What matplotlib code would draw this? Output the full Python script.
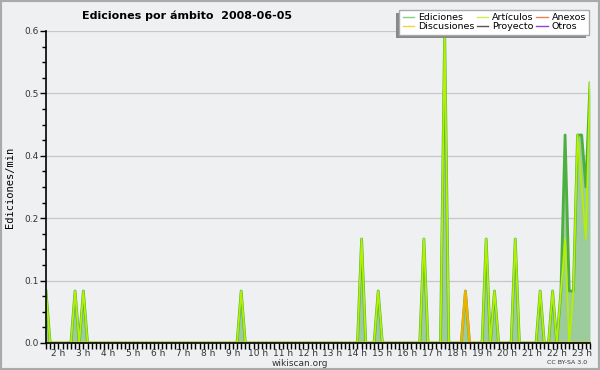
import numpy as np
import matplotlib
matplotlib.use('Agg')
import matplotlib.pyplot as plt
from matplotlib.ticker import MultipleLocator, FormatStrFormatter, FixedLocator
from matplotlib.patches import Rectangle
from matplotlib.lines import Line2D

# 10-minute bins, 01:30 .. 23:20 ; only non-zero bins listed (edits per minute)
bin_start = '01:30'
bin_end = '23:20'

ediciones = {'01:30': 0.1, '02:40': 0.1, '03:00': 0.1, '09:20': 0.1,
             '14:10': 0.2, '14:50': 0.1, '16:40': 0.2, '17:30': 0.6,
             '18:20': 0.1, '19:10': 0.2, '19:30': 0.1, '20:20': 0.2,
             '21:20': 0.1, '21:50': 0.1, '22:10': 0.1, '22:20': 0.4,
             '22:30': 0.1, '22:40': 0.1, '22:50': 0.4, '23:00': 0.4,
             '23:10': 0.3, '23:20': 0.5}
articulos = {'01:30': 0.1, '02:40': 0.1, '03:00': 0.1, '09:20': 0.1,
             '14:10': 0.2, '14:50': 0.1, '16:40': 0.2, '17:30': 0.6,
             '19:10': 0.2, '19:30': 0.1, '20:20': 0.2,
             '21:20': 0.1, '21:50': 0.1, '22:10': 0.1, '22:20': 0.2,
             '22:40': 0.1, '22:50': 0.4, '23:00': 0.3,
             '23:10': 0.2, '23:20': 0.5}
discusiones = {'18:20': 0.1}

hour_labels = [f'{h} h' for h in range(2, 24)]
hour_ticks = list(range(2, 24))


def to_hour(s):
    hh, mm = s.split(':')
    return int(hh) + int(mm) / 60.0


t0 = to_hour(bin_start)
t1 = to_hour(bin_end)
n_bins = int(round((t1 - t0) * 6)) + 1
times = t0 + np.arange(n_bins) / 6.0


def series(d):
    v = np.zeros(n_bins)
    for k, val in d.items():
        v[int(round((to_hour(k) - t0) * 6))] = val
    return v


bg = '#eef0f2'
fig = plt.figure(figsize=(6, 3.7), dpi=100, facecolor=bg)
ax = fig.add_axes([46 / 600, 1 - 343 / 370, 544 / 600, 312 / 370])
ax.set_facecolor(bg)

ed = series(ediciones)
ax.fill_between(times, 0, ed, color='#9ccb9c', lw=0, zorder=2)
ax.plot(times, ed, color='#4cb040', lw=2.0, zorder=3)
ax.plot(times, series(discusiones), color='#f0b000', lw=1.8, zorder=3.5)
ax.plot(times, series(articulos), color='#b4f000', lw=1.3, zorder=4)

ax.set_xlim(t0, t1)
ax.set_ylim(0, 0.6)

ax.yaxis.set_major_locator(MultipleLocator(0.12))
ax.yaxis.set_minor_locator(MultipleLocator(0.03))
ax.yaxis.set_major_formatter(FormatStrFormatter('%.1f'))
ax.xaxis.set_major_locator(FixedLocator(hour_ticks))
ax.xaxis.set_minor_locator(MultipleLocator(1 / 6))
ax.set_xticklabels(hour_labels)
ax.tick_params(axis='both', which='both', direction='out', color='black',
               labelsize=6.5, labelcolor='#333333', width=1)
ax.tick_params(axis='y', which='major', length=4, pad=1)
ax.tick_params(axis='y', which='minor', length=3)
ax.tick_params(axis='x', which='both', length=4, pad=0)
ax.grid(axis='y', which='major', color='#c8c8c8', lw=0.9, zorder=1)
ax.set_axisbelow(True)
for s in ['top', 'right']:
    ax.spines[s].set_visible(False)
for s in ['left', 'bottom']:
    ax.spines[s].set_color('black')
    ax.spines[s].set_linewidth(1.2)
    ax.spines[s].set_zorder(6)

ax.set_ylabel('Ediciones/min', family='DejaVu Sans Mono', fontsize=7.5, labelpad=7)

fig.text(0.312, 0.958, 'Ediciones por ámbito  2008-06-05', ha='center', va='center',
         fontsize=8, fontweight='bold')
fig.text(0.5, 0.017, 'wikiscan.org', ha='center', va='center', fontsize=6.5, color='#333333')
fig.text(0.978, 0.02, 'CC BY-SA 3.0', ha='right', va='center', fontsize=4.5, color='#333333')

names = ['Ediciones', 'Discusiones', 'Artículos', 'Proyecto', 'Anexos', 'Otros']
colors = ['#80d080', '#f8d040', '#c8f050', '#555555', '#f08050', '#9040e0']
handles = [Line2D([], [], color=c, lw=1) for c in colors]
leg = fig.legend(handles, names, ncol=3, loc='upper right', bbox_to_anchor=(0.982, 0.973),
                 fontsize=6.8, frameon=True, fancybox=False, handlelength=1.2,
                 handletextpad=0.4, columnspacing=0.3, labelspacing=0.0,
                 borderpad=0.35, borderaxespad=0)
leg.get_frame().set_edgecolor('#aaaaaa')
leg.get_frame().set_facecolor('white')
leg.get_frame().set_alpha(1)

fig.canvas.draw()
bb = leg.get_window_extent().transformed(fig.transFigure.inverted())
fig.patches.append(Rectangle((bb.x0 - 0.006, bb.y0 - 0.009), bb.width, bb.height,
                             transform=fig.transFigure, facecolor='#888888',
                             edgecolor='none', zorder=leg.get_zorder() - 0.5))

fig.patches.append(Rectangle((0, 0), 1, 1, transform=fig.transFigure, fill=False,
                             edgecolor='#aaaaaa', lw=3, zorder=10))

fig.savefig('out.png', dpi=100, facecolor=bg)
